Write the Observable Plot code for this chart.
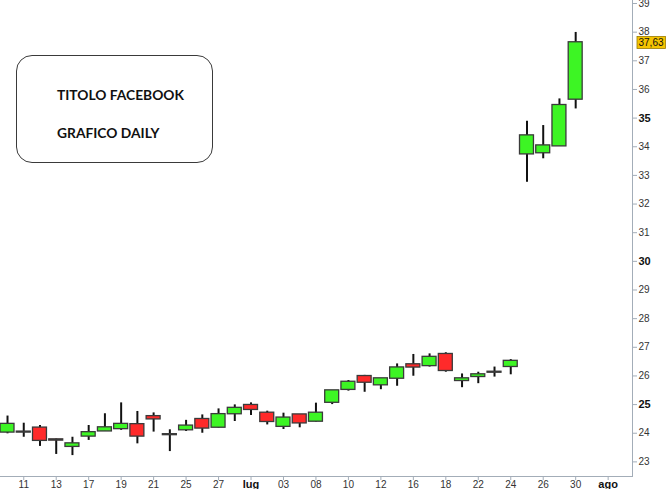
<!DOCTYPE html>
<html><head><meta charset="utf-8">
<script src="https://cdn.jsdelivr.net/npm/d3@7"></script>
<script src="https://cdn.jsdelivr.net/npm/@observablehq/plot@0.6"></script>
<style>
body{margin:0;background:#fff}
#wrap{position:relative;width:672px;height:489px;overflow:hidden;background:#fff}
#wrap svg{position:absolute;left:0;top:0}
#box{position:absolute;left:16px;top:55px;width:197px;height:108px;border:1px solid #3a3a3a;border-radius:16px;box-sizing:border-box;font-family:Lato,"Open Sans",sans-serif;font-weight:bold;font-size:13.8px;color:#111;z-index:2}
#box div{position:absolute;left:40px;white-space:nowrap;line-height:17px}
</style></head><body>
<div id="wrap"><div id="box"><div style="top:30px">TITOLO FACEBOOK</div><div style="top:68px">GRAFICO DAILY</div></div></div>
<script>
const dates = ["06-10","06-11","06-12","06-13","06-14","06-17","06-18","06-19","06-20","06-21","06-24","06-25","06-26","06-27","06-28","07-01","07-02","07-03","07-05","07-08","07-09","07-10","07-11","07-12","07-15","07-16","07-17","07-18","07-19","07-22","07-23","07-24","07-25","07-26","07-29","07-30"];
const opens  = [24.04,24.04,24.18,23.77,23.54,23.90,24.08,24.16,24.30,24.58,23.95,24.12,24.48,24.21,24.68,24.97,24.70,24.24,24.64,24.42,25.08,25.53,25.98,25.69,25.92,26.39,26.36,26.75,25.84,25.98,26.13,26.33,33.75,33.79,34.03,35.66];
const highs  = [24.60,24.35,24.27,23.80,23.86,24.27,24.68,25.06,24.76,24.71,24.12,24.45,24.64,24.85,24.99,25.06,24.77,24.70,24.65,25.05,25.48,25.84,26.02,25.91,26.42,26.75,26.77,26.81,26.07,26.13,26.31,26.57,34.89,34.74,35.67,37.99];
const lows   = [23.98,23.86,23.54,23.26,23.22,23.75,24.07,24.10,23.63,24.04,23.36,24.06,24.00,24.18,24.41,24.62,24.29,24.13,24.19,24.39,25.00,25.47,25.43,25.52,25.64,25.99,26.31,26.13,25.59,25.73,25.96,26.04,32.76,33.58,34.03,35.32];
const closes = [24.31,24.04,23.75,23.76,23.63,24.02,24.19,24.31,23.90,24.50,23.95,24.25,24.18,24.65,24.87,24.83,24.41,24.53,24.36,24.70,25.48,25.78,25.78,25.90,26.28,26.31,26.65,26.19,25.90,26.04,26.13,26.51,34.38,34.03,35.44,37.63];
const emptySessions = ["07-31","08-01","08-02"];
const tickDates  = ["06-11","06-13","06-17","06-19","06-21","06-25","06-27","07-01","07-03","07-08","07-10","07-12","07-16","07-18","07-22","07-24","07-26","07-30","08-01"];
const tickLabels = ["11","13","17","19","21","25","27","lug","03","08","10","12","16","18","22","24","26","30","ago"];
const yTicks = [23,24,25,26,27,28,29,30,31,32,33,34,35,36,37,38,39];
const boldX = ["lug","ago"];
const boldY = ["25","30","35"];
const yDomain = [22.49, 39.105];

const data = dates.map((d, i) => ({date: d, open: opens[i], high: highs[i], low: lows[i], close: closes[i]}));
const last = data[data.length - 1];
const axisColor = "#a3adb8";
const green = "#3df524", red = "#ff2a2a";

const chart = Plot.plot({
  width: 672, height: 489,
  marginLeft: 0, marginRight: 40, marginTop: 0, marginBottom: 13,
  style: {fontFamily: "'Liberation Sans', Arial, sans-serif", fontSize: "10px", color: "#333", background: "#fff"},
  x: {type: "band", domain: [...dates, ...emptySessions], range: [-1.1, 632], paddingInner: 0.14, paddingOuter: 0.07, round: false},
  y: {domain: yDomain},
  marks: [
    Plot.frame({anchor: "right", stroke: axisColor}),
    Plot.frame({anchor: "bottom", stroke: axisColor}),
    Plot.axisX({ticks: tickDates, tickFormat: d => tickLabels[tickDates.indexOf(d)], tickSize: 4, tickPadding: 0, stroke: axisColor, fill: "#333", label: null}),
    Plot.axisY({anchor: "right", ticks: yTicks, tickFormat: d => String(d), tickSize: 4, tickPadding: 2, stroke: axisColor, fill: "#333", label: null}),
    Plot.ruleX(data, {x: "date", y1: "low", y2: "high", stroke: "#111", strokeWidth: 2}),
    Plot.barY(data, {x: "date", y1: "open", y2: "close", insetTop: -0.5, insetBottom: -0.5,
      fill: d => d.close > d.open ? green : d.close < d.open ? red : "#222",
      stroke: "#3a3a3a", strokeWidth: 1.3}),
    Plot.text([last], {y: "close", frameAnchor: "right", dx: 6, textAnchor: "start",
      text: d => d.close.toFixed(2).replace(".", ","), fill: "#111", fontSize: 10})
  ]
});

const wrap = document.getElementById("wrap");
wrap.prepend(chart);

chart.querySelectorAll('g[aria-label="x-axis tick label"] text').forEach(t => {
  if (boldX.includes(t.textContent)) {
    t.setAttribute("font-weight", "bold");
    t.setAttribute("font-size", 11);
    t.setAttribute("fill", "#111");
  }
});
chart.querySelectorAll('g[aria-label="y-axis tick label"] text').forEach(t => {
  if (boldY.includes(t.textContent)) {
    t.setAttribute("font-weight", "bold");
    t.setAttribute("font-size", 11);
    t.setAttribute("fill", "#111");
  }
});
const priceText = last.close.toFixed(2).replace(".", ",");
chart.querySelectorAll('g[aria-label="text"] text').forEach(t => {
  if (t.textContent === priceText) {
    const b = t.getBBox();
    const r = document.createElementNS("http://www.w3.org/2000/svg", "rect");
    r.setAttribute("x", b.x - 1.5);
    r.setAttribute("y", b.y - 0.5);
    r.setAttribute("width", b.width + 3);
    r.setAttribute("height", b.height + 1);
    const tr = t.getAttribute("transform");
    if (tr) r.setAttribute("transform", tr);
    r.setAttribute("fill", "#f5c400");
    r.setAttribute("stroke", "#9a7a00");
    r.setAttribute("stroke-width", 0.8);
    t.parentNode.insertBefore(r, t);
  }
});
</script>
</body></html>
